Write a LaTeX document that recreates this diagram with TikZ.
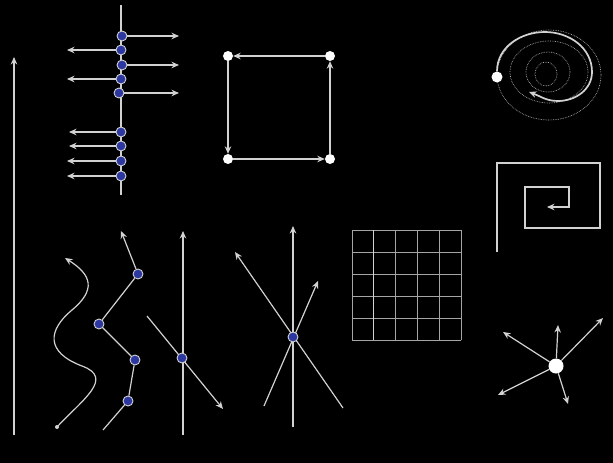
\documentclass[tikz,border=0pt]{standalone}
\usepackage{tikz}
\usetikzlibrary{arrows.meta,calc}
\definecolor{mvLine}{RGB}{210,210,210}
\definecolor{mvGrid}{RGB}{165,165,165}
\definecolor{mvBlue}{RGB}{45,55,160}
\definecolor{mvDash}{RGB}{175,175,175}

\tikzset{
  ln/.style={draw=mvLine, line width=1.2pt},
  arr/.style={ln, -{Stealth[length=7.5pt,width=6.5pt]}},
  bdot/.style={circle, fill=mvBlue, draw=mvLine, line width=0.9pt, inner sep=0pt, minimum size=10pt},
  wdot/.style={circle, fill=white, inner sep=0pt, minimum size=10pt},
  ring/.style={draw=mvDash, line width=0.7pt, densely dotted}
}

\begin{document}
\begin{tikzpicture}[x=1pt,y=-1pt]
  % background
  \fill[black] (0,0) rectangle (613,463);
  \useasboundingbox (0,0) rectangle (613,463);

  % long axis on the left
  \coordinate (axB) at (14,435);
  \coordinate (axT) at (14,57);
  \draw[arr] (axB) -- (axT);

  % column of particles
  \coordinate (colT) at (121,5);
  \coordinate (colB) at (121,195);
  \draw[ln] (colT) -- (colB);
  \foreach \i/\x/\y/\tx in {1/122/36/179, 2/121/50/67, 3/122/65/179, 4/121/79/67,
      5/119/93/179, 6/121/132/69, 7/121/146/69, 8/121/161/67, 9/121/176/67} {
    \node[bdot] (p\i) at (\x,\y) {};
    \coordinate (q\i) at (\tx,\y);
    \draw[arr] (p\i) -- (q\i);
  }

  % square cycle
  \node[wdot] (sqTL) at (228,56) {};
  \node[wdot] (sqTR) at (330,56) {};
  \node[wdot] (sqBL) at (228,159) {};
  \node[wdot] (sqBR) at (330,159) {};
  \draw[arr] (sqTR) -- (sqTL);
  \draw[arr] (sqTL) -- (sqBL);
  \draw[arr] (sqBL) -- (sqBR);
  \draw[arr] (sqBR) -- (sqTR);

  % circular spiral
  \draw[ring] (549,75) ellipse [x radius=52, y radius=45];
  \draw[ring] (549,72) ellipse [x radius=39, y radius=31];
  \draw[ring] (548,72) ellipse [x radius=22, y radius=20];
  \draw[ring] (546,74) ellipse [x radius=11, y radius=12];
  \node[wdot, minimum size=11pt] (spS) at (497,77) {};
  \coordinate (spE) at (529,92);
  \draw[arr, line width=1.7pt] (spS) to[out=90,in=180] (545,32)
    to[out=0,in=90] (592,72) to[out=-90,in=0] (558,101) to[out=180,in=-20] (spE);

  % square spiral
  \draw[arr, line join=miter] (497,252) -- (497,163) -- (600,163) -- (600,228)
    -- (525,228) -- (525,187) -- (569,187) -- (569,207) -- (547,207);

  % wavy path
  \coordinate (wS) at (57,427);
  \coordinate (wE) at (65,258);
  \fill[mvLine] (wS) circle (2pt);
  \draw[arr] (wS) .. controls (82,400) and (115,378) .. (82,366)
    .. controls (45,352) and (48,330) .. (72,310)
    .. controls (96,290) and (92,275) .. (wE);

  % zigzag chain
  \coordinate (zS) at (103,430);
  \node[bdot] (z1) at (128,401) {};
  \node[bdot] (z2) at (135,360) {};
  \node[bdot] (z3) at (99,324) {};
  \node[bdot] (z4) at (138,274) {};
  \coordinate (zE) at (121,231);
  \draw[ln] (zS) -- (z1) -- (z2) -- (z3) -- (z4);
  \draw[arr] (z4) -- (zE);

  % vertical line crossed by a diagonal
  \coordinate (vB) at (183,435);
  \coordinate (vT) at (183,231);
  \coordinate (dS) at (147,316);
  \coordinate (dE) at (223,409);
  \draw[arr] (vB) -- (vT);
  \draw[arr] (dS) -- (dE);
  \node[bdot] (vx) at (182,358) {};

  % three lines through one point
  \coordinate (sB) at (293,427);
  \coordinate (sT) at (293,226);
  \coordinate (aB) at (264,406);
  \coordinate (aT) at (318,281);
  \coordinate (bB) at (343,408);
  \coordinate (bT) at (235,252);
  \draw[arr] (sB) -- (sT);
  \draw[arr] (aB) -- (aT);
  \draw[arr] (bB) -- (bT);
  \node[bdot] (sx) at (293,337) {};

  % grid
  \foreach \i in {0,...,5} {
    \draw[draw=mvGrid, line width=1pt] ({352+21.8*\i},230) -- ({352+21.8*\i},340);
    \draw[draw=mvGrid, line width=1pt] (352,{230+22*\i}) -- (461,{230+22*\i});
  }
  \draw[draw=mvLine, line width=1pt] (373.8,230) -- (373.8,340);

  % burst of arrows
  \node[wdot, minimum size=15pt] (hub) at (556,366) {};
  \foreach \n/\x/\y in {h1/503/332, h2/558/325, h3/603/318, h4/498/395, h5/568/404} {
    \coordinate (\n) at (\x,\y);
    \draw[arr] (hub) -- (\n);
  }
\end{tikzpicture}
\end{document}
